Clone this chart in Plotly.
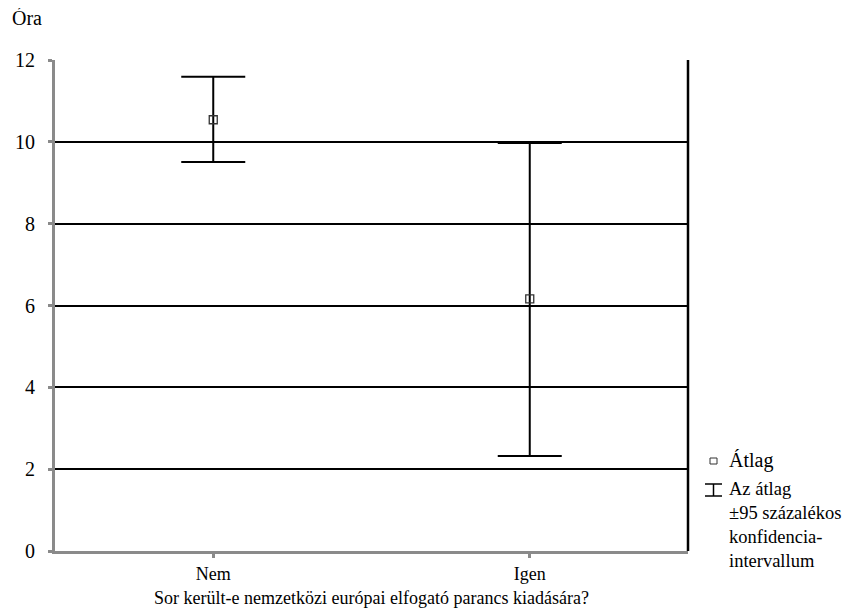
import plotly.graph_objects as go

categories = ["Nem", "Igen"]
means = [10.54, 6.16]
ci_upper = [11.59, 9.97]
ci_lower = [9.51, 2.32]
y_ticks = [0, 2, 4, 6, 8, 10, 12]

err_plus = [u - m for u, m in zip(ci_upper, means)]
err_minus = [m - l for m, l in zip(means, ci_lower)]

FONT = "Liberation Serif"

# page body has an 8px margin; compensate so the plot area sits at x 55..688, y 60..551
L, T = 47, 52
PW, PH = 633, 491

fig = go.Figure()
fig.add_trace(go.Scatter(
    x=categories, y=means, mode="markers",
    marker=dict(symbol="square-open", size=8, color="#333333", line=dict(width=1.3)),
    error_y=dict(type="data", symmetric=False, array=err_plus, arrayminus=err_minus,
                 color="black", thickness=2, width=32),
    showlegend=False,
))

def px(x):
    return (x - 55) / PW

def py(y):
    return (551 - y) / PH

fig.update_layout(
    width=864, height=616,
    margin=dict(l=L, r=864 - L - PW, t=T, b=616 - T - PH, autoexpand=False),
    paper_bgcolor="white", plot_bgcolor="white",
    font=dict(family=FONT, size=18, color="black"),
    xaxis=dict(
        type="category", range=[-0.5, 1.5], showgrid=False,
        showline=True, linecolor="#8a8a8a", linewidth=3,
        ticks="outside", tickcolor="#8a8a8a", ticklen=4, tickwidth=3,
        mirror=False, zeroline=False, tickfont=dict(family=FONT, size=18, color="black"),
        ticklabelstandoff=0,
        title=dict(text="Sor került-e nemzetközi európai elfogató parancs kiadására?",
                   font=dict(family=FONT, size=18, color="black"), standoff=9),
    ),
    yaxis=dict(
        range=[0, 12], tickvals=y_ticks, showgrid=True, gridcolor="black", gridwidth=1.6,
        showline=True, linecolor="#8a8a8a", linewidth=3,
        ticks="outside", tickcolor="#8a8a8a", ticklen=4, tickwidth=3,
        zeroline=False, ticklabelstandoff=9, tickfont=dict(family=FONT, size=20, color="black"),
    ),
    shapes=[
        dict(type="line", xref="paper", yref="paper", x0=1, x1=1, y0=0, y1=1,
             line=dict(color="black", width=2.5)),
        # legend icons
        dict(type="rect", xref="paper", yref="paper",
             x0=px(710), x1=px(717), y0=py(464), y1=py(458),
             line=dict(color="#333333", width=1), fillcolor="white"),
        dict(type="line", xref="paper", yref="paper",
             x0=px(705), x1=px(722), y0=py(484), y1=py(484),
             line=dict(color="black", width=1.5)),
        dict(type="line", xref="paper", yref="paper",
             x0=px(705), x1=px(722), y0=py(496), y1=py(496),
             line=dict(color="black", width=1.5)),
        dict(type="line", xref="paper", yref="paper",
             x0=px(713.5), x1=px(713.5), y0=py(496), y1=py(484),
             line=dict(color="black", width=1.5)),
    ],
    annotations=[
        dict(text="Óra", xref="paper", yref="paper", x=px(10), y=py(18),
             xanchor="left", yanchor="middle", showarrow=False,
             font=dict(family=FONT, size=20, color="black")),
        dict(text="Átlag", xref="paper", yref="paper", x=px(727), y=py(460),
             xanchor="left", yanchor="middle", showarrow=False,
             font=dict(family=FONT, size=20, color="black")),
        dict(text="Az átlag<br>±95 százalékos<br>konfidencia-<br>intervallum",
             xref="paper", yref="paper", x=px(727), y=py(477),
             xanchor="left", yanchor="top", align="left", showarrow=False,
             font=dict(family=FONT, size=18.5, color="black")),
    ],
)

fig.write_html("out.html")
